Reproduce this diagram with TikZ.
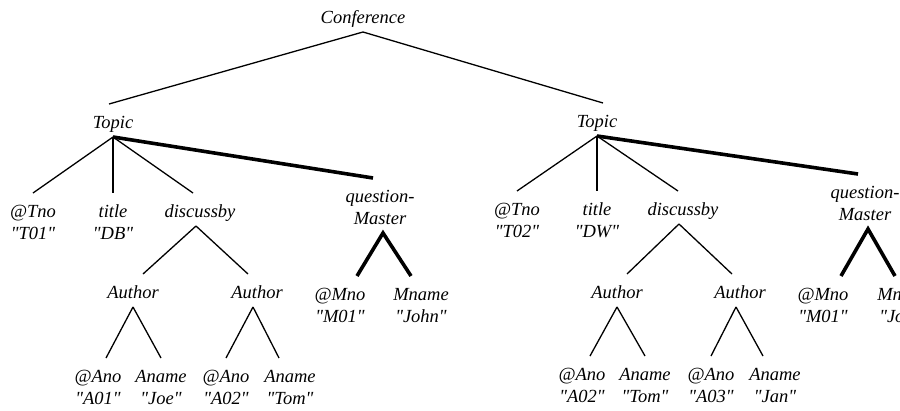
\documentclass[tikz,border=0pt]{standalone}
\usepackage{fontspec}
\setmainfont{Liberation Serif}
\newcommand{\lbl}[1]{\rule[-9pt]{0pt}{33pt}#1}
\newcommand{\duo}[2]{\rule{0pt}{24pt}#1\\#2\rule[-9pt]{0pt}{9pt}}
\newcommand{\qt}[1]{\textquotedbl#1\textquotedbl}
\tikzset{tag node/.style={anchor=north,inner sep=0pt,outer sep=0pt,align=center,font=\itshape\fontsize{18.5}{22}\selectfont},
	thin edge/.style={line width=1.3pt},
	bold edge/.style={line width=3.6pt},
}

\begin{document}
\begin{tikzpicture}[x=1pt,y=-1pt]
		\useasboundingbox (0,0) rectangle (900,410);
		\clip (0,0) rectangle (900,410);
		
		\node[tag node] (conf) at (363,-1) {\lbl{Conference}};
		\node[tag node] (topicA) at (113,104) {\lbl{Topic}};
		\node[tag node] (topicB) at (597,103) {\lbl{Topic}};
		
		% first topic
		\node[tag node] (tnoA) at (33,193) {\duo{@Tno}{\qt{T01}}};
		\node[tag node] (titleA) at (113,193) {\duo{title}{\qt{DB}}};
		\node[tag node] (discA) at (200,193) {\lbl{discussby}};
		\node[tag node] (qmA) at (380,178) {\duo{question-}{Master}};
		\node[tag node] (authA1) at (133,274) {\lbl{Author}};
		\node[tag node] (authA2) at (257,274) {\lbl{Author}};
		\node[tag node] (mnoA) at (340,276) {\duo{@Mno}{\qt{M01}}};
		\node[tag node] (mnameA) at (421,276) {\duo{Mname}{\qt{John}}};
		\node[tag node] (anoA1) at (98,358) {\duo{@Ano}{\qt{A01}}};
		\node[tag node] (anameA1) at (161,358) {\duo{Aname}{\qt{Joe}}};
		\node[tag node] (anoA2) at (226,358) {\duo{@Ano}{\qt{A02}}};
		\node[tag node] (anameA2) at (290,358) {\duo{Aname}{\qt{Tom}}};
		
		% second topic
		\node[tag node] (tnoB) at (517,191) {\duo{@Tno}{\qt{T02}}};
		\node[tag node] (titleB) at (597,191) {\duo{title}{\qt{DW}}};
		\node[tag node] (discB) at (683,191) {\lbl{discussby}};
		\node[tag node] (qmB) at (865,174) {\duo{question-}{Master}};
		\node[tag node] (authB1) at (617,274) {\lbl{Author}};
		\node[tag node] (authB2) at (740,274) {\lbl{Author}};
		\node[tag node] (mnoB) at (823,276) {\duo{@Mno}{\qt{M01}}};
		\node[tag node] (mnameB) at (905,276) {\duo{Mname}{\qt{John}}};
		\node[tag node] (anoB1) at (582,356) {\duo{@Ano}{\qt{A02}}};
		\node[tag node] (anameB1) at (645,356) {\duo{Aname}{\qt{Tom}}};
		\node[tag node] (anoB2) at (711,356) {\duo{@Ano}{\qt{A03}}};
		\node[tag node] (anameB2) at (775,356) {\duo{Aname}{\qt{Jan}}};
		
		\path[draw,thin edge]
		(conf.south) edge ([xshift=-4pt]topicA.north)
		(conf.south) edge ([xshift=6pt]topicB.north)
		(topicA.south) edge (tnoA.north)
		(topicA.south) edge (titleA.north)
		(topicA.south) edge ([xshift=-7pt]discA.north)
		([xshift=-4pt]discA.south) edge ([xshift=10pt]authA1.north)
		([xshift=-4pt]discA.south) edge ([xshift=-9pt]authA2.north)
		(authA1.south) edge ([xshift=8pt]anoA1.north)
		(authA1.south) edge (anameA1.north)
		([xshift=-4pt]authA2.south) edge (anoA2.north)
		([xshift=-4pt]authA2.south) edge ([xshift=-11pt]anameA2.north)
		(topicB.south) edge (tnoB.north)
		(topicB.south) edge (titleB.north)
		(topicB.south) edge ([xshift=-5pt]discB.north)
		([xshift=-4pt]discB.south) edge ([xshift=10pt]authB1.north)
		([xshift=-4pt]discB.south) edge ([xshift=-8pt]authB2.north)
		(authB1.south) edge ([xshift=8pt]anoB1.north)
		(authB1.south) edge (anameB1.north)
		([xshift=-4pt]authB2.south) edge (anoB2.north)
		([xshift=-4pt]authB2.south) edge ([xshift=-12pt]anameB2.north);
		
		\path[draw,bold edge]
		(topicA.south) edge ([xshift=-7pt]qmA.north)
		(topicB.south) edge ([xshift=-7pt]qmB.north);
		\draw[bold edge] ([xshift=17pt]mnoA.north) -- ([xshift=3pt]qmA.south) -- ([xshift=-10pt]mnameA.north);
		\draw[bold edge] ([xshift=18pt]mnoB.north) -- ([xshift=3pt]qmB.south) -- ([xshift=-10pt]mnameB.north);
		
	\end{tikzpicture}
\end{document}
